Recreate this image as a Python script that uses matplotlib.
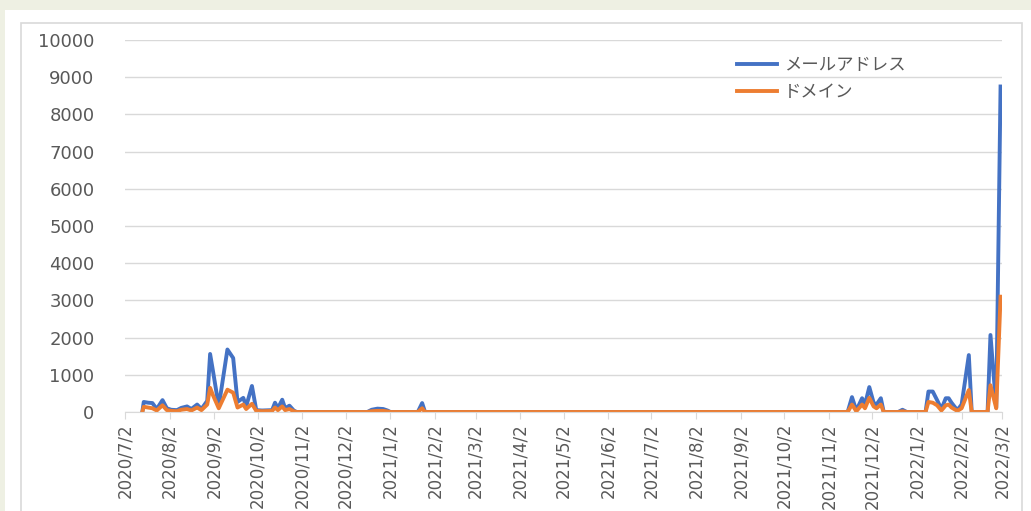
import matplotlib
matplotlib.use("Agg")
import matplotlib.pyplot as plt
from matplotlib.patches import Rectangle
import pandas as pd

plt.rcParams['font.family'] = ['Noto Sans CJK JP', 'DejaVu Sans']

# values (daily counts, sparse points; zero between clusters)
dates = [
    "2020-07-14", "2020-07-15", "2020-07-18", "2020-07-21", "2020-07-24", "2020-07-28",
    "2020-07-31", "2020-08-03", "2020-08-07", "2020-08-10", "2020-08-14", "2020-08-17",
    "2020-08-21", "2020-08-24", "2020-08-28", "2020-08-30", "2020-09-01", "2020-09-05",
    "2020-09-11", "2020-09-15", "2020-09-18", "2020-09-22", "2020-09-24", "2020-09-28",
    "2020-10-01", "2020-10-05", "2020-10-12", "2020-10-14", "2020-10-16", "2020-10-19",
    "2020-10-21", "2020-10-24", "2020-10-27", "2020-10-29",
    "2020-12-17", "2020-12-20", "2020-12-24", "2020-12-28", "2020-12-31", "2021-01-02",
    "2021-01-21", "2021-01-24", "2021-01-26",
    "2021-11-15", "2021-11-18", "2021-11-21", "2021-11-25", "2021-11-27", "2021-11-30",
    "2021-12-03", "2021-12-05", "2021-12-08", "2021-12-10", "2021-12-20", "2021-12-23",
    "2021-12-26", "2022-01-08", "2022-01-10", "2022-01-13", "2022-01-16", "2022-01-19",
    "2022-01-22", "2022-01-24", "2022-01-26", "2022-01-30", "2022-02-02", "2022-02-07",
    "2022-02-09", "2022-02-20", "2022-02-22", "2022-02-26", "2022-03-01",
]
mail = [
    0, 270, 250, 240, 80, 320,
    100, 60, 50, 110, 150, 80,
    200, 80, 300, 1560, 1100, 150,
    1680, 1450, 270, 380, 150, 700,
    50, 40, 50, 250, 100, 330,
    100, 170, 40, 0,
    0, 60, 90, 80, 40, 0,
    0, 240, 0,
    0, 400, 40, 370, 200, 670,
    250, 200, 370, 0, 0, 60,
    0, 0, 550, 550, 320, 80,
    370, 370, 250, 50, 200, 1530,
    0, 0, 2070, 120, 8750,
]
domain = [
    0, 140, 120, 100, 40, 180,
    50, 30, 20, 60, 80, 40,
    120, 50, 200, 650, 450, 100,
    600, 520, 120, 200, 80, 220,
    30, 20, 30, 120, 50, 150,
    50, 80, 20, 0,
    0, 20, 30, 30, 15, 0,
    0, 100, 0,
    0, 200, 20, 200, 100, 380,
    150, 100, 200, 0, 0, 20,
    0, 0, 270, 250, 180, 40,
    180, 200, 120, 30, 100, 590,
    0, 0, 720, 100, 3100,
]
series_names = ["メールアドレス", "ドメイン"]
x_start, x_end = "2020-07-02", "2022-03-02"

blue = "#4472C4"
orange = "#ED7D31"
gray_text = "#595959"

fig = plt.figure(figsize=(10.31, 5.11), dpi=100)
fig.patch.set_facecolor("#eef0e3")

# white card and light chart border, kept behind the axes
fig.patches.append(Rectangle((5 / 1031, 0), 1, 1 - 10 / 511, transform=fig.transFigure,
                             facecolor="white", edgecolor="none", zorder=-2))
fig.patches.append(Rectangle((21 / 1031, -0.05), 1001 / 1031, 1.05 - 23 / 511,
                             transform=fig.transFigure, facecolor="none",
                             edgecolor="#d9d9d9", linewidth=1.2, zorder=-1))

ax = fig.add_axes([125 / 1031, 1 - 412 / 511, 877 / 1031, 372 / 511])
ax.set_zorder(2)
ax.set_facecolor("none")

d = pd.to_datetime(dates)
ax.plot(d, mail, color=blue, linewidth=2.8, solid_joinstyle="round", label=series_names[0])
ax.plot(d, domain, color=orange, linewidth=2.8, solid_joinstyle="round", label=series_names[1])

ax.set_xlim(pd.Timestamp(x_start), pd.Timestamp(x_end))
ax.set_ylim(0, 10000)
ax.set_yticks(range(0, 10001, 1000))
ax.yaxis.grid(True, color="#d9d9d9", linewidth=1)
ax.set_axisbelow(True)

months = pd.date_range("2020-07-01", x_end, freq="MS") + pd.Timedelta(days=1)
ax.set_xticks(months)
ax.set_xticklabels([f"{m.year}/{m.month}/{m.day}" for m in months], rotation=90)

for s in ["top", "right", "left"]:
    ax.spines[s].set_visible(False)
ax.spines["bottom"].set_color("#d9d9d9")
ax.tick_params(axis="y", length=0, labelsize=13, labelcolor=gray_text, pad=22)
ax.tick_params(axis="x", length=5, color="#d9d9d9", labelsize=12, labelcolor=gray_text, pad=3)
for lab in ax.get_xticklabels() + ax.get_yticklabels():
    lab.set_family("DejaVu Sans")

leg = ax.legend(loc="upper left", bbox_to_anchor=(0.68, 1.0), frameon=False,
                fontsize=12.5, handlelength=2.3, handletextpad=0.4, labelspacing=0.55)
for t in leg.get_texts():
    t.set_color(gray_text)

fig.savefig("out.png", dpi=100, facecolor=fig.get_facecolor())
